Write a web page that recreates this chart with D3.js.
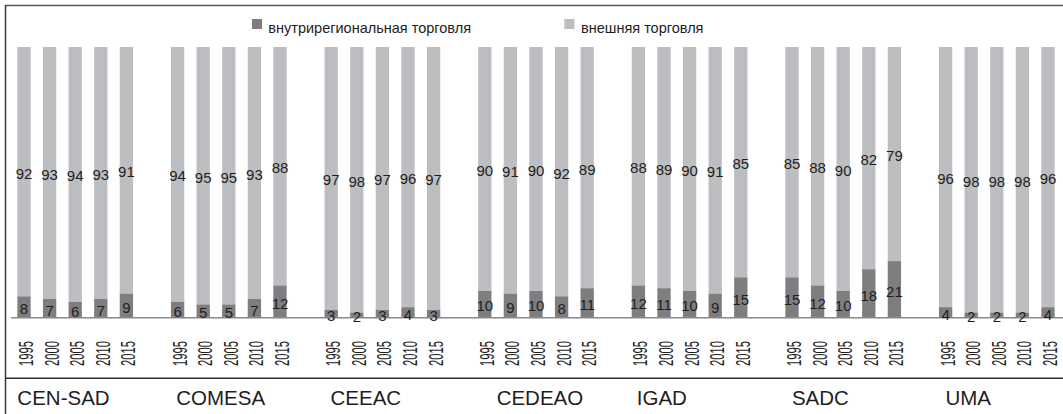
<!DOCTYPE html>
<html>
<head>
<meta charset="utf-8">
<script src="https://cdn.jsdelivr.net/npm/d3@7/dist/d3.min.js"></script>
<style>
  html, body { margin: 0; padding: 0; background: #fff; }
  svg { display: block; font-family: "Liberation Sans", Arial, Helvetica, sans-serif; }
</style>
</head>
<body>
<svg id="chart" width="1063" height="414"></svg>
<script>
// ---- data ----
const groups = ["CEN-SAD", "COMESA", "CEEAC", "CEDEAO", "IGAD", "SADC", "UMA"];
const years = ["1995", "2000", "2005", "2010", "2015"];
const seriesNames = ["внутрирегиональная торговля", "внешняя торговля"];
// intra-regional trade share, %, per group per year
const intraTrade = [
  [8, 7, 6, 7, 9],
  [6, 5, 5, 7, 12],
  [3, 2, 3, 4, 3],
  [10, 9, 10, 8, 11],
  [12, 11, 10, 9, 15],
  [15, 12, 10, 18, 21],
  [4, 2, 2, 2, 4]
];
// external trade share, %, per group per year
const externalTrade = [
  [92, 93, 94, 93, 91],
  [94, 95, 95, 93, 88],
  [97, 98, 97, 96, 97],
  [90, 91, 90, 92, 89],
  [88, 89, 90, 91, 85],
  [85, 88, 90, 82, 79],
  [96, 98, 98, 98, 96]
];

// ---- layout ----
const svg = d3.select("#chart");
const W = 1063, H = 414;
const colDark = "#7e7e81", colLight = "#bdbec2", textCol = "#1e1e1e";
const slot = 25.6;
const x0 = 11.2;

const xGroup = d3.scaleBand().domain(groups)
  .range([x0, x0 + groups.length * slot * 6]).paddingInner(0).paddingOuter(0);
const xYear = d3.scaleBand().domain(years)
  .range([0, slot * years.length]).paddingInner(0.48).paddingOuter(0.24);
const y = d3.scaleLinear().domain([0, 100]).range([318, 47]);

const rows = [];
groups.forEach((g, gi) => years.forEach((yr, yi) => {
  rows.push({ g, yr, intra: intraTrade[gi][yi], ext: externalTrade[gi][yi],
              x: xGroup(g) + xYear(yr) });
}));
const bw = xYear.bandwidth();

// frame
svg.append("line").attr("x1", 5.5).attr("x2", W).attr("y1", 5.5).attr("y2", 5.5)
  .attr("stroke", "#5a5a5a").attr("stroke-width", 1.5);
svg.append("line").attr("x1", 5.5).attr("x2", 5.5).attr("y1", 5).attr("y2", H)
  .attr("stroke", "#3a3a3a").attr("stroke-width", 1.5);

// bars
const bars = svg.append("g");
bars.selectAll("rect.light").data(rows).join("rect").attr("class", "light")
  .attr("x", d => d.x).attr("width", bw)
  .attr("y", d => y(d.intra + d.ext)).attr("height", d => y(d.intra) - y(d.intra + d.ext))
  .attr("fill", colLight);
bars.selectAll("rect.dark").data(rows).join("rect").attr("class", "dark")
  .attr("x", d => d.x).attr("width", bw)
  .attr("y", d => y(d.intra)).attr("height", d => y(0) - y(d.intra))
  .attr("fill", colDark);

// baseline
svg.append("line").attr("x1", x0).attr("x2", W).attr("y1", y(0) - 0.3).attr("y2", y(0) - 0.3)
  .attr("stroke", "#8a8a8a").attr("stroke-width", 1.6);

// value labels
const lab = svg.append("g").attr("font-size", 15).attr("fill", textCol).attr("text-anchor", "middle");
lab.selectAll("text.ext").data(rows).join("text").attr("class", "ext")
  .attr("x", d => d.x + bw / 2)
  .attr("y", d => (y(d.intra) + y(d.intra + d.ext)) / 2 + 1.5)
  .attr("dominant-baseline", "central")
  .text(d => d.ext);
lab.selectAll("text.intra").data(rows).join("text").attr("class", "intra")
  .attr("x", d => d.x + bw / 2)
  .attr("y", d => (y(0) + y(d.intra)) / 2 + 1.5)
  .attr("dominant-baseline", "central")
  .text(d => d.intra);

// year labels (condensed, rotated)
svg.append("g").selectAll("text").data(rows).join("text")
  .attr("transform", d => `translate(${d.x + bw / 2 + 9},353.5) rotate(-90)`)
  .attr("text-anchor", "middle")
  .attr("font-size", 19.5)
  .attr("textLength", 25).attr("lengthAdjust", "spacingAndGlyphs")
  .attr("fill", textCol)
  .text(d => d.yr);

// separator line
svg.append("line").attr("x1", 5).attr("x2", W).attr("y1", 378.3).attr("y2", 378.3)
  .attr("stroke", "#2e2e2e").attr("stroke-width", 1.5);

// group labels
const nudge = [0, 5.3, 6, 18.5, 5, 6.6, 6.5];
svg.append("g").selectAll("text").data(groups).join("text")
  .attr("x", (g, i) => xGroup(g) + xYear(years[0]) + nudge[i])
  .attr("y", 405)
  .attr("font-size", 20.5)
  .attr("fill", textCol)
  .text(g => g);

// legend
const legX = [252, 564.3];
const legCol = [colDark, colLight];
const leg = svg.append("g").selectAll("g").data(seriesNames).join("g")
  .attr("transform", (d, i) => `translate(${legX[i]},0)`);
leg.append("rect").attr("x", 0).attr("y", 19).attr("width", 10).attr("height", 10)
  .attr("fill", (d, i) => legCol[i]);
leg.append("text").attr("x", (d, i) => i === 0 ? 16.3 : 16.7).attr("y", 33)
  .attr("font-size", 14.5).attr("fill", textCol).text(d => d);
</script>
</body>
</html>
